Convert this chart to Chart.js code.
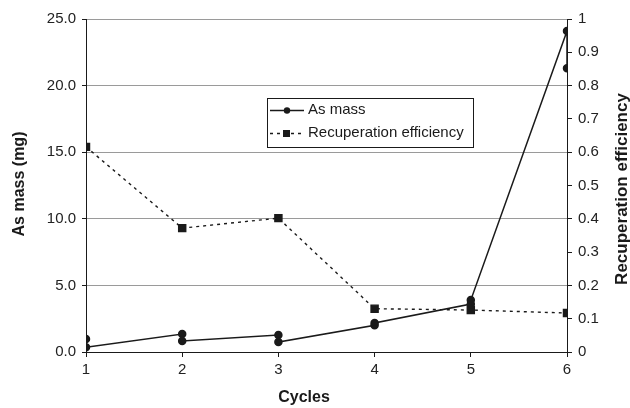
<!DOCTYPE html>
<html>
<head>
<meta charset="utf-8">
<script src="https://cdn.jsdelivr.net/npm/chart.js@4.4.1/dist/chart.umd.min.js"></script>
<style>
  html, body { margin: 0; padding: 0; background: #fff; }
  #wrap { width: 630px; height: 408px; }
</style>
</head>
<body>
<div id="wrap"><canvas id="myChart" width="630" height="408"></canvas></div>
<script>
// DATA
const cycles = [1, 2, 3, 4, 5, 6];
// two As mass readings per cycle, in the order the line joins them
const massCycles = [1, 1, 2, 2, 3, 3, 4, 4, 5, 5, 6, 6];
const massValues = [0.98, 0.35, 1.35, 0.83, 1.28, 0.75, 2.0, 2.18, 3.6, 3.9, 24.1, 21.3];
const efficiency = [0.616, 0.372, 0.402, 0.13, 0.126, 0.117];
const massTicks = [0, 5, 10, 15, 20, 25];
const leftTitle = "As mass (mg)";
const rightTitle = "Recuperation efficiency";
const xTitle = "Cycles";

const FONT = "'Liberation Sans', Arial, Helvetica, sans-serif";
const INK = "#1a1a1a";

// legend box + axis titles drawn by hand
const extras = {
  id: "extras",
  afterDraw(chart) {
    const c = chart.ctx;
    c.save();
    // titles
    c.fillStyle = INK;
    c.font = "bold 16px " + FONT;
    c.textAlign = "center";
    c.textBaseline = "middle";
    c.fillText(xTitle, 304, 398);
    c.save();
    c.translate(20, 184);
    c.rotate(-Math.PI / 2);
    c.fillText(leftTitle, 0, 0);
    c.restore();
    c.save();
    c.translate(622, 189);
    c.rotate(-Math.PI / 2);
    c.font = "bold 17px " + FONT;
    c.fillText(rightTitle, 0, 0);
    c.restore();

    // legend
    c.fillStyle = "#fff";
    c.fillRect(267, 98, 206, 49);
    c.strokeStyle = INK;
    c.lineWidth = 1;
    c.strokeRect(267.5, 98.5, 206, 49);
    let ds = chart.data.datasets;
    let rows = [110, 133];
    ds.forEach(function (d, i) {
      let y = rows[i];
      c.strokeStyle = INK;
      c.lineWidth = d.borderWidth;
      c.setLineDash(d.borderDash || []);
      c.beginPath();
      c.moveTo(270, y + 0.5);
      c.lineTo(304, y + 0.5);
      c.stroke();
      c.setLineDash([]);
      c.fillStyle = INK;
      if (d.pointStyle == "rect") {
        c.fillRect(283, y - 3, 7, 7);
      } else {
        c.beginPath();
        c.arc(287, y + 0.5, 3.2, 0, Math.PI * 2);
        c.fill();
      }
      c.font = "15px " + FONT;
      c.textAlign = "left";
      c.textBaseline = "middle";
      c.fillText(d.label, 308, y);
    });
    c.restore();
  },
};

const ctx = document.getElementById("myChart");
chart = new Chart(ctx, {
  type: "scatter",
  data: {
    datasets: [
      {
        label: "As mass",
        data: massCycles.map((x, i) => ({ x: x, y: massValues[i] })),
        yAxisID: "y",
        showLine: true,
        borderColor: INK,
        backgroundColor: INK,
        borderWidth: 1.5,
        pointStyle: "circle",
        pointRadius: 3.5,
        pointHoverRadius: 3.5,
      },
      {
        label: "Recuperation efficiency",
        data: cycles.map((x, i) => ({ x: x, y: efficiency[i] })),
        yAxisID: "y2",
        showLine: true,
        borderColor: INK,
        backgroundColor: INK,
        borderWidth: 1.4,
        borderDash: [3, 4],
        pointStyle: "rect",
        pointRadius: 5,
        pointHoverRadius: 5,
      },
    ],
  },
  options: {
    responsive: false,
    animation: false,
    layout: { padding: { top: 19, left: 0, right: 0, bottom: 0 } },
    plugins: {
      legend: { display: false },
      tooltip: { enabled: false },
    },
    scales: {
      x: {
        type: "linear",
        min: 1,
        max: 6,
        afterFit: (s) => { s.height = 56; },
        afterBuildTicks: (s) => { s.ticks = cycles.map((v) => ({ value: v })); },
        border: { color: INK, width: 1 },
        grid: { drawOnChartArea: false, tickLength: 5, tickColor: INK },
        ticks: { color: "#222", font: { family: FONT, size: 15 }, padding: 4 },
      },
      y: {
        position: "left",
        min: 0,
        max: 25,
        afterFit: (s) => { s.width = 86; },
        afterBuildTicks: (s) => { s.ticks = massTicks.map((v) => ({ value: v })); },
        border: { color: INK, width: 1 },
        grid: { color: "#9a9a9a", lineWidth: 1, tickLength: 4, tickColor: INK },
        ticks: {
          color: "#222",
          font: { family: FONT, size: 15 },
          padding: 6,
          callback: (v) => v.toFixed(1),
        },
      },
      y2: {
        position: "right",
        min: 0,
        max: 1,
        afterFit: (s) => { s.width = 63; },
        border: { color: INK, width: 1 },
        grid: { drawOnChartArea: false, tickLength: 5, tickColor: INK },
        ticks: {
          stepSize: 0.1,
          color: "#222",
          font: { family: FONT, size: 15 },
          padding: 6,
          callback: (v) => String(+v.toFixed(1)),
        },
      },
    },
  },
  plugins: [extras],
});
</script>
</body>
</html>
